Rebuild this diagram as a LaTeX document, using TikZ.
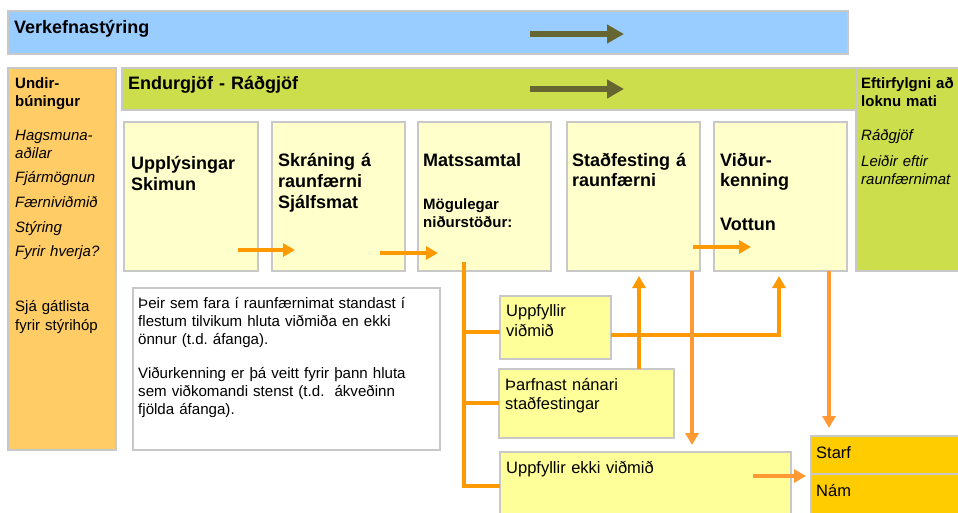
\documentclass[tikz,border=0pt]{standalone}
\usepackage{fontspec}
\setmainfont{Liberation Sans}
\usetikzlibrary{arrows.meta,calc}
\frenchspacing
\definecolor{colBlue}{HTML}{99CCFF}
\definecolor{colPrep}{HTML}{FFCC66}
\definecolor{colLime}{RGB}{205,222,76}
\definecolor{colPale}{HTML}{FFFFCC}
\definecolor{colRes}{HTML}{FFFF99}
\definecolor{colGold}{HTML}{FFCC00}
\definecolor{colEdge}{HTML}{C8C8C8}
\definecolor{colOrng}{HTML}{FF9900}
\definecolor{colOrngL}{HTML}{FF9933}
\definecolor{colOlive}{HTML}{666633}
\newcommand\myfs[2]{\fontsize{#1pt}{#2pt}\selectfont}
\newcommand\mybox[6][]{\node[boxbase,#1,minimum width={(#5-#3)*1pt},minimum height={(#6-#4)*1pt}] (#2) at (#3,#4) {};}
\tikzset{
  boxbase/.style={draw=colEdge, line width=1.3pt, inner sep=0pt, outer sep=0pt, anchor=north west},
  txt/.style={inner sep=0pt, anchor=base west, text width=320pt, align=left},
  oline/.style={draw=colOrng, line width=3.5pt},
  oarrow/.style={oline, -{Triangle[width=13pt,length=12pt]}},
  oarrowl/.style={draw=colOrngL, line width=3.5pt, -{Triangle[width=13pt,length=12pt]}},
  bigarrow/.style={draw=colOlive, line width=6pt, -{Triangle[width=18pt,length=17pt]}},
}
\begin{document}
\begin{tikzpicture}[x=1pt,y=-1pt]
\useasboundingbox (0,0) rectangle (958,512);
\clip (0,0) rectangle (958,512);
% boxes
\mybox[fill=colBlue]{vb}{8}{11}{848}{54}
\mybox[fill=colPrep]{ub}{8}{68}{116}{450}
\mybox[fill=colLime]{gb}{122}{68}{856}{110}
\mybox[fill=colLime]{eb}{856}{68}{962}{271}
\mybox[fill=colPale]{b1}{124}{122}{258}{271}
\mybox[fill=colPale]{b2}{272}{122}{405}{271}
\mybox[fill=colPale]{b3}{418}{122}{551}{271}
\mybox[fill=colPale]{b4}{567}{122}{700}{271}
\mybox[fill=colPale]{b5}{714}{122}{847}{271}
\mybox[fill=white]{tb}{133}{288}{440}{450}
\mybox[fill=colRes]{r1}{500}{296}{611}{359}
\mybox[fill=colRes]{r2}{499}{369}{674}{438}
\mybox[fill=colRes]{r3}{500}{452}{791}{516}
\mybox[fill=colGold]{starf}{811}{436}{962}{474}
\mybox[fill=colGold]{nam}{811}{474}{962}{516}
% texts
\node[txt, font=\myfs{18}{21}\bfseries] (tvb) at (14,33.5) {Verkefnastýring};
\node[txt, font=\myfs{18}{21}\bfseries] (tgb) at (128,89) {Endurgjöf - Ráðgjöf};
\node[txt, font=\myfs{15}{18.7}\bfseries] (tub) at (15,88) {Undir-\\búningur};
\node[txt, font=\myfs{15}{17.6}\itshape] (tul) at (15,140.7) {Hagsmuna-\\aðilar\\[7pt]Fjármögnun\\[7pt]Færniviðmið\\[7pt]Stýring\\[7pt]Fyrir hverja?};
\node[txt, font=\myfs{15}{18.3}] (tus) at (15,311.7) {Sjá gátlista\\fyrir stýrihóp};
\node[txt, font=\myfs{15}{18.7}\bfseries] (teb) at (861,88) {Eftirfylgni að\\loknu mati};
\node[txt, font=\myfs{15}{17.6}\itshape] (tel) at (861,140.7) {Ráðgjöf\\[8.4pt]Leiðir eftir\\raunfærnimat};
\node[txt, font=\myfs{18}{21.4}\bfseries] (tb1) at (131,169.3) {Upplýsingar\\Skimun};
\node[txt, font=\myfs{18}{20.8}\bfseries] (tb2) at (278,166.7) {Skráning á\\raunfærni\\Sjálfsmat};
\node[txt, font=\myfs{18}{20.8}\bfseries] (tb3) at (423,166.7) {Matssamtal};
\node[txt, font=\myfs{15}{18.3}\bfseries] (tb3b) at (423,209) {Mögulegar\\niðurstöður:};
\node[txt, font=\myfs{18}{20}\bfseries] (tb4) at (572,166.7) {Staðfesting á\\raunfærni};
\node[txt, font=\myfs{18}{20}\bfseries] (tb5) at (720,166.7) {Viður-\\kenning\\[23.3pt]Vottun};
\node[txt, font=\myfs{15.1}{18}] (ttb) at (138,308.3) {Þeir sem fara í raunfærnimat standast í\\flestum tilvikum hluta viðmiða en ekki\\önnur (t.d. áfanga).\\[16.5pt]Viðurkenning er þá veitt fyrir þann hluta\\sem viðkomandi stenst (t.d.\ \ ákveðinn\\fjölda áfanga).};
\node[txt, font=\myfs{16.5}{19.3}] (tr1) at (506,316.7) {Uppfyllir\\viðmið};
\node[txt, font=\myfs{16.5}{18.6}] (tr2) at (505,390.7) {Þarfnast nánari\\staðfestingar};
\node[txt, font=\myfs{16.5}{19}] (tr3) at (506,473.3) {Uppfyllir ekki viðmið};
\node[txt, font=\myfs{16.5}{19}] (tst) at (816,458.3) {Starf};
\node[txt, font=\myfs{16.5}{19}] (tnm) at (816,496.7) {Nám};
% big arrows
\coordinate (va) at (530,34); \coordinate (vz) at (624,34);
\coordinate (ga) at (530,89); \coordinate (gz) at (624,89);
\draw[bigarrow] (va) -- (vz);
\draw[bigarrow] (ga) -- (gz);
% step arrows
\coordinate (s1a) at (238,250); \coordinate (s1z) at (295,250);
\coordinate (s2a) at (380,253); \coordinate (s2z) at (438,253);
\coordinate (s3a) at (693,247); \coordinate (s3z) at (751,247);
\draw[oarrow] (s1a) -- (s1z);
\draw[oarrow] (s2a) -- (s2z);
\draw[oarrow] (s3a) -- (s3z);
% tree from Matssamtal
\coordinate (t0) at (464,262);
\coordinate (t1) at (464,332);
\coordinate (t2) at (464,403);
\coordinate (t3) at (464,486);
\draw[oline] (t0) -- (t3) -- (r3.west |- t3);
\draw[oline] (t1) -- (r1.west |- t1);
\draw[oline] (t2) -- (r2.west |- t2);
% Uppfyllir -> Vidurkenning
\coordinate (u1) at (779,335);
\draw[oarrow] (r1.east |- u1) -- (u1) -- ($(b5.south -| u1)+(0,5)$);
% Tharfnast -> Stadfesting
\coordinate (p1) at (639,369);
\draw[oarrow] (r2.north -| p1) -- ($(b4.south -| p1)+(0,5)$);
% Stadfesting -> Uppfyllir ekki
\coordinate (d1) at (692,271);
\draw[oarrowl] (b4.south -| d1) -- ($(r3.north -| d1)+(0,-7)$);
% Vidurkenning -> Starf
\coordinate (d2) at (829,271);
\draw[oarrowl] (b5.south -| d2) -- ($(starf.north -| d2)+(0,-8)$);
% Uppfyllir ekki -> Starf
\coordinate (e1) at (753,476);
\draw[oarrowl] (e1) -- ($(starf.west |- e1)+(-5,0)$);
\end{tikzpicture}
\end{document}
